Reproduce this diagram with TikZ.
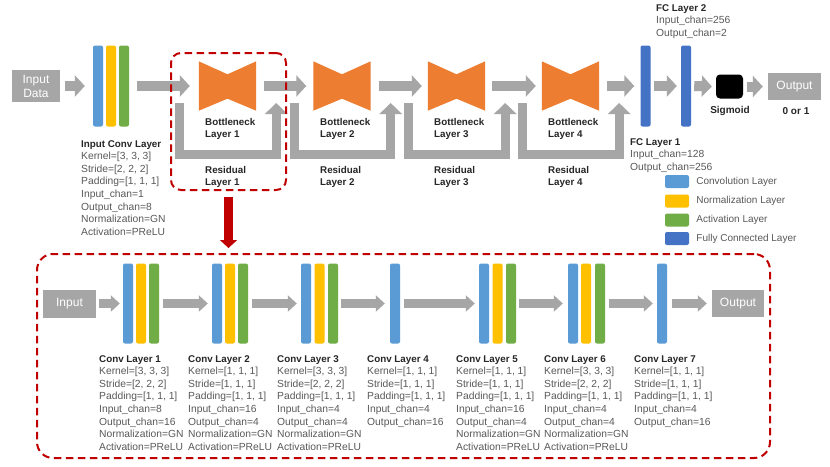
\documentclass[tikz,border=0pt]{standalone}
\usepackage{fontspec}
\setmainfont{Liberation Sans}
\usetikzlibrary{arrows.meta,calc}
\definecolor{cblue}{HTML}{5B9BD5}
\definecolor{cyel}{HTML}{FFC000}
\definecolor{cgreen}{HTML}{70AD47}
\definecolor{cfc}{HTML}{4472C4}
\definecolor{corange}{HTML}{ED7D31}
\definecolor{cgray}{HTML}{A6A6A6}
\definecolor{cred}{HTML}{C00000}
\definecolor{ctext}{HTML}{595959}
\definecolor{cdark}{HTML}{262626}
\newcommand\lyrtitle[1]{{\fontsize{9.8}{12.6}\selectfont\bfseries\color{cdark}#1}}
\tikzset{
  bar/.style={minimum width=10pt, minimum height=81pt, inner sep=0pt, rounded corners=2pt},
  lowbar/.style={bar, minimum height=80pt},
  gbox/.style={fill=cgray, text=white, inner sep=0pt, font=\fontsize{12}{14}\selectfont, align=center},
  blk/.style={draw=cgray, line width=10pt, -{Triangle[width=21pt,length=10pt]}},
  blks/.style={draw=cgray, line width=8.5pt, -{Triangle[width=16pt,length=9pt]}},
  res/.style={draw=cgray, line width=9pt, line join=miter, -{Triangle[width=22pt,length=11pt]}},
  redarr/.style={draw=cred, line width=9pt, -{Triangle[width=17pt,length=8pt]}},
  reddash/.style={draw=cred, line width=2pt, dash pattern=on 7.5pt off 4.5pt, inner sep=0pt},
  bneck/.style={minimum width=57pt, minimum height=49pt, inner sep=0pt},
  info/.style={anchor=north west, align=left, inner sep=0pt, text=ctext, font=\fontsize{10.3}{12.6}\selectfont},
  blbl/.style={anchor=north west, align=left, inner sep=0pt, text=cdark, font=\fontsize{9.8}{12.6}\selectfont\bfseries},
  single/.style={anchor=base, inner sep=0pt, text=cdark, font=\fontsize{10}{12.6}\selectfont\bfseries},
  leg/.style={minimum width=24pt, minimum height=13pt, inner sep=0pt, rounded corners=2pt},
  legtxt/.style={anchor=west, inner sep=0pt, text=ctext, font=\fontsize{10}{12}\selectfont},
}
\begin{document}
\begin{tikzpicture}[x=1pt,y=-1pt]
\useasboundingbox (0,0) rectangle (830,466);
\fill[white] (0,0) rectangle (830,466);

% ---------- top row ----------
\node[gbox, minimum width=48pt, minimum height=32pt] (indata) at (36,86) {Input\\Data};
\node[bar, fill=cblue]  (ic1) at (98,86) {};
\node[bar, fill=cyel]   (ic2) at (111,86) {};
\node[bar, fill=cgreen] (ic3) at (124,86) {};
\node[info] (ictxt) at (81,140) {\lyrtitle{Input Conv Layer}\\Kernel=[3, 3, 3]\\Stride=[2, 2, 2]\\Padding=[1, 1, 1]\\Input\_chan=1\\Output\_chan=8\\Normalization=GN\\Activation=PReLU};

\node[bneck] (b1) at (227.5,86) {};
\node[bneck] (b2) at (342,86) {};
\node[bneck] (b3) at (456.5,86) {};
\node[bneck] (b4) at (570.5,86) {};
\foreach \b in {b1,b2,b3,b4}{
  \fill[corange] (\b.north west) -- ([yshift=-13pt]\b.north) -- (\b.north east) -- (\b.south east) -- ([yshift=12pt]\b.south) -- (\b.south west) -- cycle;
  \draw[res] ($(\b.west)+(-19,17)$) |- ($(\b.east)+(20,68.5)$) -- ($(\b.east)+(20,17)$);
}
\node[blbl] (bt1) at (205,118) {Bottleneck\\Layer 1};
\node[blbl] (bt2) at (320,118) {Bottleneck\\Layer 2};
\node[blbl] (bt3) at (434,118) {Bottleneck\\Layer 3};
\node[blbl] (bt4) at (548,118) {Bottleneck\\Layer 4};
\node[blbl] (rt1) at (205,166) {Residual\\Layer 1};
\node[blbl] (rt2) at (320,166) {Residual\\Layer 2};
\node[blbl] (rt3) at (434,166) {Residual\\Layer 3};
\node[blbl] (rt4) at (548,166) {Residual\\Layer 4};

\node[bar, fill=cfc] (fc1) at (645.5,86) {};
\node[bar, fill=cfc] (fc2) at (686,86) {};
\node[info] (fc2txt) at (656,4) {\lyrtitle{FC Layer 2}\\Input\_chan=256\\Output\_chan=2};
\node[info] (fc1txt) at (630,138) {\lyrtitle{FC Layer 1}\\Input\_chan=128\\Output\_chan=256};
\node[fill=black, rounded corners=4pt, minimum width=27pt, minimum height=24pt, inner sep=0pt] (sig) at (729.5,86.5) {};
\node[single] (sigtxt) at (730,113) {Sigmoid};
\node[gbox, minimum width=53pt, minimum height=27pt] (out) at (794.5,86.5) {Output};
\node[single] (outtxt) at (796,114) {0 or 1};

\draw[blk] ([xshift=5pt]indata.east) -- ([xshift=-8pt]ic1.west);
\draw[blk] ([xshift=8pt]ic3.east) -- ([xshift=-9pt]b1.west);
\draw[blk] ([xshift=8pt]b1.east) -- ([xshift=-7pt]b2.west);
\draw[blk] ([xshift=8pt]b2.east) -- ([xshift=-6pt]b3.west);
\draw[blk] ([xshift=7pt]b3.east) -- ([xshift=-6pt]b4.west);
\draw[blk] ([xshift=8pt]b4.east) -- ([xshift=-6pt]fc1.west);
\draw[blk] ([xshift=3pt]fc1.east) -- ([xshift=-4pt]fc2.west);
\draw[blk] ([xshift=3pt]fc2.east) -- ([xshift=-4pt]sig.west);
\draw[blk] ([xshift=4pt]sig.east) -- ([xshift=-5pt]out.west);

% legend
\node[leg, fill=cblue]  (l1) at (677,181.5) {};
\node[leg, fill=cyel]   (l2) at (677,201) {};
\node[leg, fill=cgreen] (l3) at (677,220) {};
\node[leg, fill=cfc]    (l4) at (677,238.5) {};
\node[legtxt] (lt1) at ([xshift=7pt]l1.east) {Convolution Layer};
\node[legtxt] (lt2) at ([xshift=7pt]l2.east) {Normalization Layer};
\node[legtxt] (lt3) at ([xshift=7pt]l3.east) {Activation Layer};
\node[legtxt] (lt4) at ([xshift=7pt]l4.east) {Fully Connected Layer};

% dashed boxes and red arrow
\node[reddash, rounded corners=10pt, minimum width=115pt, minimum height=137pt] (res1) at (228.5,121.5) {};
\node[reddash, rounded corners=16pt, minimum width=733pt, minimum height=204pt] (big) at (403.5,356) {};
\draw[redarr] ([yshift=-6pt]res1.south) -- ([yshift=5pt]res1.south |- big.north);

% ---------- bottom row ----------
\node[gbox, minimum width=53pt, minimum height=28pt] (inp) at (69.5,303.5) {Input};
\node[lowbar, fill=cblue]  (c1a) at (128,303.5) {};
\node[lowbar, fill=cyel]   (c1b) at (141,303.5) {};
\node[lowbar, fill=cgreen] (c1c) at (154,303.5) {};
\node[lowbar, fill=cblue]  (c2a) at (217,303.5) {};
\node[lowbar, fill=cyel]   (c2b) at (230,303.5) {};
\node[lowbar, fill=cgreen] (c2c) at (243,303.5) {};
\node[lowbar, fill=cblue]  (c3a) at (306,303.5) {};
\node[lowbar, fill=cyel]   (c3b) at (319.5,303.5) {};
\node[lowbar, fill=cgreen] (c3c) at (333,303.5) {};
\node[lowbar, fill=cblue]  (c4a) at (395,303.5) {};
\node[lowbar, fill=cblue]  (c5a) at (484,303.5) {};
\node[lowbar, fill=cyel]   (c5b) at (497.5,303.5) {};
\node[lowbar, fill=cgreen] (c5c) at (511,303.5) {};
\node[lowbar, fill=cblue]  (c6a) at (573,303.5) {};
\node[lowbar, fill=cyel]   (c6b) at (586,303.5) {};
\node[lowbar, fill=cgreen] (c6c) at (600,303.5) {};
\node[lowbar, fill=cblue]  (c7a) at (662,303.5) {};
\node[gbox, minimum width=52pt, minimum height=27pt] (outp) at (738,303.5) {Output};

\draw[blks] ([xshift=3pt]inp.east) -- ([xshift=-3pt]c1a.west);
\draw[blks] ([xshift=4pt]c1c.east) -- ([xshift=-4pt]c2a.west);
\draw[blks] ([xshift=4pt]c2c.east) -- ([xshift=-4pt]c3a.west);
\draw[blks] ([xshift=3pt]c3c.east) -- ([xshift=-5pt]c4a.west);
\draw[blks] ([xshift=4pt]c4a.east) -- ([xshift=-4pt]c5a.west);
\draw[blks] ([xshift=3pt]c5c.east) -- ([xshift=-5pt]c6a.west);
\draw[blks] ([xshift=4pt]c6c.east) -- ([xshift=-4pt]c7a.west);
\draw[blks] ([xshift=5pt]c7a.east) -- ([xshift=-5pt]outp.west);

\node[info] (t1) at (99,355) {\lyrtitle{Conv Layer 1}\\Kernel=[3, 3, 3]\\Stride=[2, 2, 2]\\Padding=[1, 1, 1]\\Input\_chan=8\\Output\_chan=16\\Normalization=GN\\Activation=PReLU};
\node[info] (t2) at (188,355) {\lyrtitle{Conv Layer 2}\\Kernel=[1, 1, 1]\\Stride=[1, 1, 1]\\Padding=[1, 1, 1]\\Input\_chan=16\\Output\_chan=4\\Normalization=GN\\Activation=PReLU};
\node[info] (t3) at (277,355) {\lyrtitle{Conv Layer 3}\\Kernel=[3, 3, 3]\\Stride=[2, 2, 2]\\Padding=[1, 1, 1]\\Input\_chan=4\\Output\_chan=4\\Normalization=GN\\Activation=PReLU};
\node[info] (t4) at (367,355) {\lyrtitle{Conv Layer 4}\\Kernel=[1, 1, 1]\\Stride=[1, 1, 1]\\Padding=[1, 1, 1]\\Input\_chan=4\\Output\_chan=16};
\node[info] (t5) at (456,355) {\lyrtitle{Conv Layer 5}\\Kernel=[1, 1, 1]\\Stride=[1, 1, 1]\\Padding=[1, 1, 1]\\Input\_chan=16\\Output\_chan=4\\Normalization=GN\\Activation=PReLU};
\node[info] (t6) at (544,355) {\lyrtitle{Conv Layer 6}\\Kernel=[3, 3, 3]\\Stride=[2, 2, 2]\\Padding=[1, 1, 1]\\Input\_chan=4\\Output\_chan=4\\Normalization=GN\\Activation=PReLU};
\node[info] (t7) at (634,355) {\lyrtitle{Conv Layer 7}\\Kernel=[1, 1, 1]\\Stride=[1, 1, 1]\\Padding=[1, 1, 1]\\Input\_chan=4\\Output\_chan=16};
\end{tikzpicture}
\end{document}
